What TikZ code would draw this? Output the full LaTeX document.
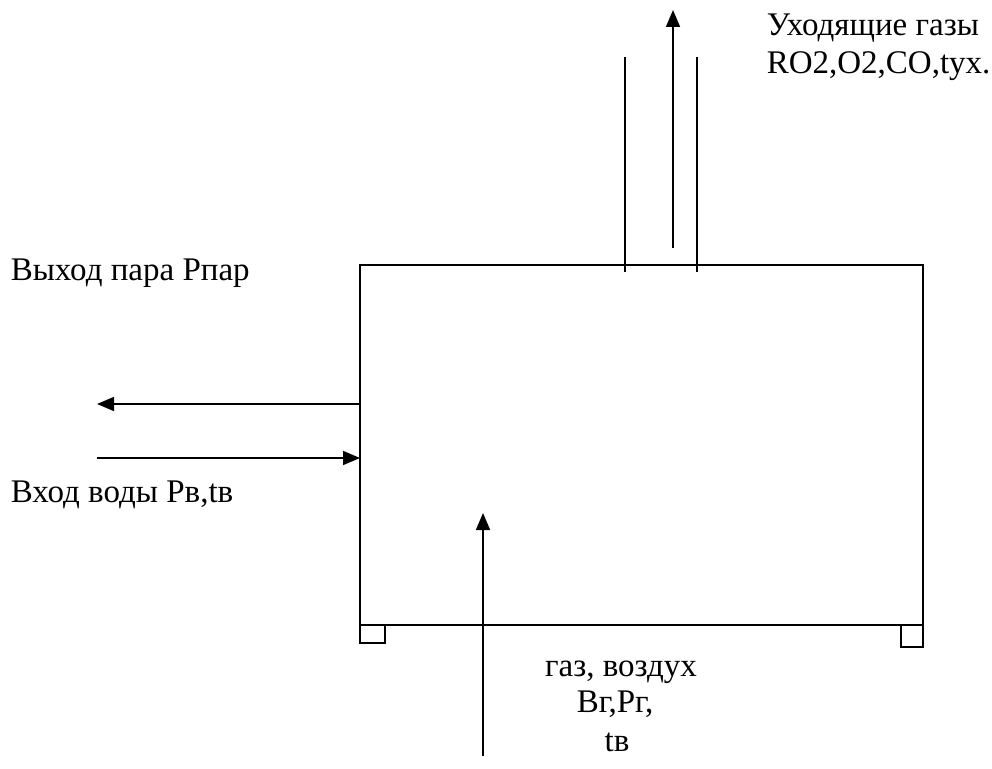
\documentclass[tikz,border=0pt]{standalone}
\usepackage{fontspec}
\setmainfont{Liberation Serif}
\usetikzlibrary{arrows.meta}
\begin{document}
\begin{tikzpicture}[x=1pt,y=-1pt,
  line width=1.6pt,
  flow/.style={-{Triangle[length=17pt,width=14pt]}},
  lbl/.style={font=\fontsize{33}{38}\selectfont, inner sep=0pt}]
\useasboundingbox (0,0) rectangle (992,768);
% boiler body
\node[draw, minimum width=563pt, minimum height=360pt, inner sep=0pt, outer sep=0pt] (boiler) at (641.5,445) {};
% feet
\node[draw, minimum width=25pt, minimum height=18pt, inner sep=0pt, outer sep=0pt] (footL) at (372.5,634) {};
\node[draw, minimum width=22pt, minimum height=22pt, inner sep=0pt, outer sep=0pt] (footR) at (912,636) {};
% chimney
\coordinate (chL1) at (625,57); \coordinate (chL2) at (625,272);
\coordinate (chR1) at (697,57); \coordinate (chR2) at (697,272);
\draw (chL1) -- (chL2);
\draw (chR1) -- (chR2);
\coordinate (gasS) at (673,248); \coordinate (gasE) at (673,10);
\draw[flow] (gasS) -- (gasE);
% steam out / water in
\coordinate (steamS) at (360,404); \coordinate (steamE) at (97,404);
\draw[flow] (steamS) -- (steamE);
\coordinate (waterS) at (97,458); \coordinate (waterE) at (360,458);
\draw[flow] (waterS) -- (waterE);
% fuel in
\coordinate (fuelS) at (483,756); \coordinate (fuelE) at (483,513);
\draw[flow] (fuelS) -- (fuelE);
% labels
\node[lbl, anchor=base west] (t1) at (766,36) {Уходящие газы};
\node[lbl, anchor=base west] (t2) at (766,74) {RO2,O2,CO,tyx.};
\node[lbl, anchor=base west] (t3) at (10,280) {Выход пара Рпар};
\node[lbl, anchor=base west] (t4) at (10,502) {Вход воды Рв,tв};
\node[lbl, anchor=base] (t5) at (621,676) {газ, воздух};
\node[lbl, anchor=base] (t6) at (615,712) {Вг,Рг,};
\node[lbl, anchor=base] (t7) at (617,751) {tв};
\end{tikzpicture}
\end{document}
